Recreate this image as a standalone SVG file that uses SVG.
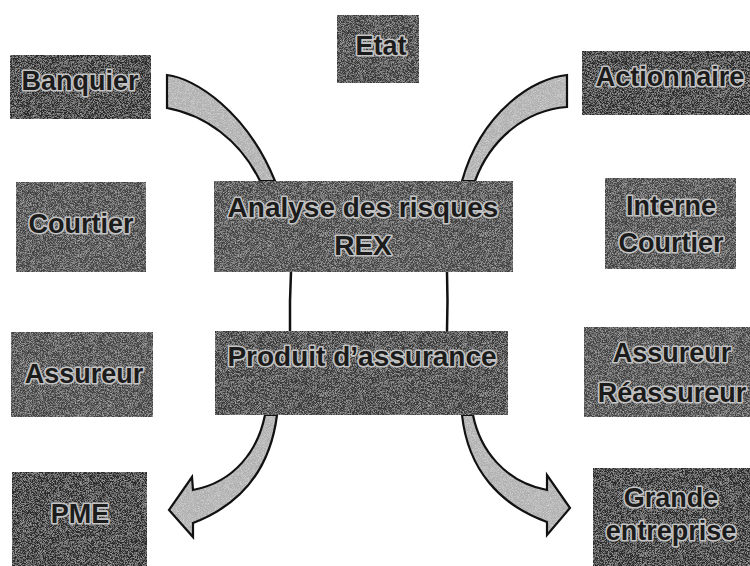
<svg xmlns="http://www.w3.org/2000/svg" width="750" height="566" viewBox="0 0 750 566">
<defs>
<filter id="grain" x="0" y="0" width="100%" height="100%">
<feTurbulence type="fractalNoise" baseFrequency="1.6" numOctaves="1" seed="7" result="n"/>
<feColorMatrix in="n" type="matrix" values="0 0 0 0 1  0 0 0 0 1  0 0 0 0 1  1.1 0 0 0 -0.47" result="w"/>
<feComposite in="w" in2="SourceGraphic" operator="in" result="wn"/>
<feMerge><feMergeNode in="SourceGraphic"/><feMergeNode in="wn"/></feMerge>
</filter>
<path id="bTL" d="M167,75 C195,78 247,112 275,181 L260,181 C240,140 205,115 167,108 Z"/>
<path id="bTR" d="M567,75 C535,78 482,110 462,181 L475,181 C490,140 525,110 567,107 Z"/>
<path id="bBL" d="M265,415 C258,450 235,482 193,490 L192,477 L169,510 L193,537 L193,523 C240,505 270,470 277,415 Z"/>
<path id="bBR" d="M473,415 C480,450 505,482 547,490 L547,475 L570,508 L547,535 L547,522 C500,505 468,470 462,415 Z"/>
</defs>
<style>
.box{stroke:none;filter:url(#grain)}
.dk{fill:#2c2c2c}
.md{fill:#383838}
.lt{fill:#434343}
.lbl{font-family:"Liberation Sans",Arial,sans-serif;font-weight:bold;font-size:27px;fill:#1c1c1c;stroke:#c4c4c4;stroke-width:3.2;paint-order:stroke;stroke-linejoin:round;text-anchor:middle}
.big{font-size:28px}
.bandfill{fill:#b0b0b0;filter:url(#grain)}
.bandline{fill:none;stroke:#111;stroke-width:2.2;stroke-linejoin:miter}
.ln{fill:none;stroke:#111;stroke-width:2.5}
</style>
<rect width="750" height="566" fill="#ffffff"/>
<g id="connectors">
<use href="#bTL" class="bandfill"/><use href="#bTL" class="bandline"/>
<use href="#bTR" class="bandfill"/><use href="#bTR" class="bandline"/>
<path class="ln" d="M291,272 Q289.5,301 290,331"/>
<path class="ln" d="M447,272 Q448,301 447,331"/>
<use href="#bBL" class="bandfill"/><use href="#bBL" class="bandline"/>
<use href="#bBR" class="bandfill"/><use href="#bBR" class="bandline"/>
</g>
<g id="banquier"><rect class="box dk" x="10" y="55" width="141" height="64"/><text class="lbl" x="80" y="90">Banquier</text></g>
<g id="etat"><rect class="box md" x="337" y="15" width="82" height="68"/><text class="lbl" x="381" y="55">Etat</text></g>
<g id="actionnaire"><rect class="box dk" x="582" y="51" width="172" height="64"/><text class="lbl" x="670" y="86">Actionnaire</text></g>
<g id="courtier"><rect class="box lt" x="16" y="182" width="130" height="90"/><text class="lbl" x="81" y="233">Courtier</text></g>
<g id="analyse"><rect class="box lt" x="214" y="181" width="299" height="91"/><text class="lbl big" x="363" y="217">Analyse des risques</text><text class="lbl big" x="363" y="255">REX</text></g>
<g id="interne-courtier"><rect class="box lt" x="605" y="178" width="131" height="91"/><text class="lbl" x="671" y="215">Interne</text><text class="lbl" x="671" y="252">Courtier</text></g>
<g id="assureur"><rect class="box lt" x="11" y="332" width="142" height="85"/><text class="lbl" x="84" y="383">Assureur</text></g>
<g id="produit"><rect class="box md" x="215" y="331" width="293" height="84"/><text class="lbl big" x="362" y="366">Produit d’assurance</text></g>
<g id="assureur-reassureur"><rect class="box lt" x="584" y="327" width="170" height="90"/><text class="lbl" x="672" y="362">Assureur</text><text class="lbl" x="672" y="402">Réassureur</text></g>
<g id="pme"><rect class="box dk" x="12" y="472" width="135" height="98"/><text class="lbl" x="80" y="523">PME</text></g>
<g id="grande-entreprise"><rect class="box dk" x="593" y="468" width="161" height="102"/><text class="lbl" x="671" y="507">Grande</text><text class="lbl" x="671" y="540">entreprise</text></g>
</svg>
